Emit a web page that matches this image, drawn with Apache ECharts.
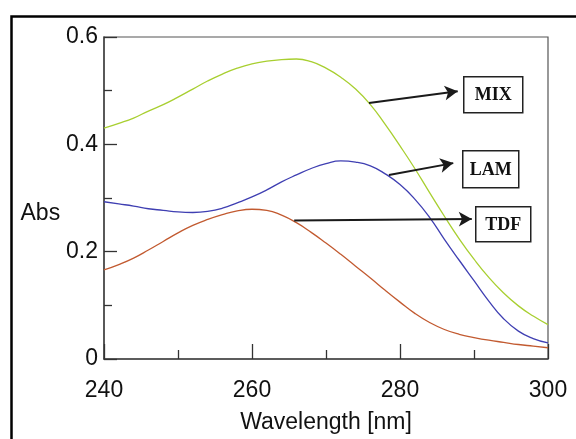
<!DOCTYPE html>
<html>
<head>
<meta charset="utf-8">
<script src="https://cdn.jsdelivr.net/npm/echarts@6/dist/echarts.min.js"></script>
<style>
  html, body { margin: 0; padding: 0; background: #fff; }
  #chart { width: 576px; height: 439px; }
</style>
</head>
<body>
<div id="chart"></div>
<script>
// wavelength axis (nm), 2 nm steps
const wavelengths = [240, 242, 244, 246, 248, 250, 252, 254, 256, 258, 260, 262, 264, 266, 268, 270,
  272, 274, 276, 278, 280, 282, 284, 286, 288, 290, 292, 294, 296, 298, 300];

const mixAbs = [0.430, 0.439, 0.449, 0.462, 0.474, 0.488, 0.503, 0.518, 0.531, 0.542, 0.550, 0.555,
  0.558, 0.559, 0.554, 0.542, 0.525, 0.503, 0.474, 0.437, 0.397, 0.355, 0.310, 0.266, 0.224, 0.186,
  0.152, 0.123, 0.099, 0.080, 0.064];
const lamAbs = [0.293, 0.289, 0.285, 0.280, 0.277, 0.274, 0.273, 0.275, 0.281, 0.291, 0.302, 0.315,
  0.330, 0.343, 0.355, 0.364, 0.369, 0.367, 0.360, 0.345, 0.325, 0.298, 0.264, 0.223, 0.184, 0.146,
  0.108, 0.075, 0.052, 0.038, 0.030];
const tdfAbs = [0.166, 0.176, 0.188, 0.203, 0.219, 0.235, 0.249, 0.260, 0.269, 0.276, 0.279, 0.277,
  0.268, 0.254, 0.236, 0.216, 0.195, 0.173, 0.151, 0.128, 0.106, 0.085, 0.068, 0.055, 0.046, 0.040,
  0.035, 0.031, 0.027, 0.024, 0.021];

const seriesNames = ["MIX", "LAM", "TDF"];
const xTicks = [240, 260, 280, 300];
const yTicks = [0, 0.2, 0.4, 0.6];

// arrow start/end in data units [wavelength, abs]
const mixArrow = [[275.8, 0.477], [287.8, 0.499]];
const lamArrow = [[278.5, 0.343], [287.2, 0.365]];
const tdfArrow = [[265.7, 0.258], [289.7, 0.261]];

const sansFont = "'Liberation Sans', Arial, sans-serif";
const chart = echarts.init(document.getElementById("chart"));

function toPairs(values) {
  return wavelengths.map((w, i) => [w, values[i]]);
}

function arrowLine(pts) {
  return {
    silent: true,
    animation: false,
    symbol: ["none", "arrow"],
    symbolSize: [11, 13],
    label: { show: false },
    lineStyle: { color: "#1a1a1a", width: 2, type: "solid" },
    data: [[{ coord: pts[0] }, { coord: pts[1] }]],
  };
}

function curve(name, values, color, arrow) {
  return {
    name,
    type: "line",
    data: toPairs(values),
    smooth: 0.5,
    showSymbol: false,
    lineStyle: { color, width: 1.3 },
    markLine: arrowLine(arrow),
  };
}

function labelBox(text, x, y, w, h) {
  return {
    type: "group",
    left: x,
    top: y,
    children: [
      { type: "rect", shape: { x: 0, y: 0, width: w, height: h },
        style: { fill: "#fff", stroke: "#222", lineWidth: 1.5 } },
      { type: "text", x: w / 2, y: h / 2 + 1,
        style: { text, fill: "#111", align: "center", verticalAlign: "middle",
          font: "bold 18px 'Liberation Serif', 'Times New Roman', serif" } },
    ],
  };
}

chart.setOption({
  animation: false,
  grid: { left: 104, right: 28, top: 37, bottom: 76, show: true, borderColor: "#555", borderWidth: 1.2 },
  xAxis: {
    type: "value",
    min: 240,
    max: 300,
    interval: 20,
    name: "Wavelength [nm]",
    nameLocation: "middle",
    nameGap: 52,
    nameTextStyle: { fontFamily: sansFont, fontSize: 23, color: "#111" },
    axisLine: { lineStyle: { color: "#444", width: 1.5 } },
    axisTick: { inside: true, length: 15, lineStyle: { color: "#333", width: 1.3 } },
    minorTick: { show: true, splitNumber: 2, length: 9, lineStyle: { color: "#333", width: 1.3 } },
    splitLine: { show: false },
    axisLabel: {
      margin: 20,
      fontFamily: sansFont,
      fontSize: 23,
      color: "#111",
      formatter: (v) => (xTicks.includes(v) ? String(v) : ""),
    },
  },
  yAxis: {
    type: "value",
    min: 0,
    max: 0.6,
    interval: 0.2,
    name: "Abs",
    nameLocation: "middle",
    nameRotate: 0,
    nameGap: 42,
    nameTextStyle: { fontFamily: sansFont, fontSize: 23, color: "#111", verticalAlign: "top", padding: [4, 0, 0, 0] },
    axisLine: { lineStyle: { color: "#444", width: 1.5 } },
    axisTick: { inside: true, length: 13, lineStyle: { color: "#333", width: 1.3 } },
    minorTick: { show: true, splitNumber: 2, length: 8, lineStyle: { color: "#333", width: 1.3 } },
    splitLine: { show: false },
    axisLabel: {
      margin: 6,
      fontFamily: sansFont,
      fontSize: 23,
      color: "#111",
      formatter: (v) => {
        const t = yTicks.find((y) => Math.abs(y - v) < 1e-6);
        return t === undefined ? "" : t === 0 ? "0" : t.toFixed(1);
      },
    },
  },
  series: [
    curve(seriesNames[0], mixAbs, "#a8cf30", mixArrow),
    curve(seriesNames[1], lamAbs, "#3f3fb2", lamArrow),
    curve(seriesNames[2], tdfAbs, "#c25a30", tdfArrow),
  ],
  graphic: [
    { type: "rect", left: 9, top: 14, silent: true,
      shape: { x: 0, y: 0, width: 600, height: 500 },
      style: { fill: "none", stroke: "#000", lineWidth: 2.5 } },
    labelBox(seriesNames[0], 463, 76, 59, 36),
    labelBox(seriesNames[1], 462, 150, 56, 37),
    labelBox(seriesNames[2], 475, 206, 55, 35),
  ],
});
</script>
</body>
</html>
